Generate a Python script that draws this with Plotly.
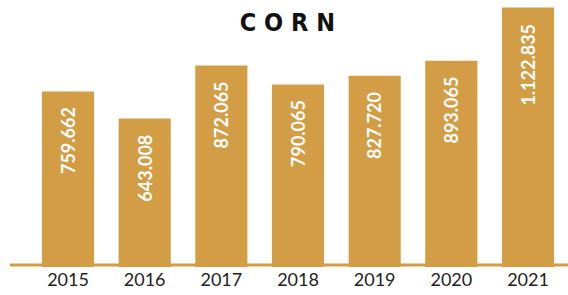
import plotly.graph_objects as go

years = ["2015", "2016", "2017", "2018", "2019", "2020", "2021"]
values = [759662, 643008, 872065, 790065, 827720, 893065, 1122835]
labels = [f"{v:,}".replace(",", ".") for v in values]

BAR = "#D39D45"

fig = go.Figure()
fig.add_trace(go.Bar(
    x=list(range(len(years))), y=values,
    marker=dict(color=BAR, line=dict(width=0)),
    width=0.68,
    hoverinfo="skip",
))

for i, (v, t) in enumerate(zip(values, labels)):
    fig.add_annotation(
        x=i, y=v, text=t, showarrow=False, textangle=-90,
        xanchor="center", yanchor="top", yshift=-14,
        font=dict(family="Lato", size=18, color="white", weight="bold"),
    )

# baseline line
fig.add_shape(type="line", xref="paper", x0=0, x1=1,
              yref="y", ysizemode="pixel", yanchor=0, y0=2, y1=2,
              line=dict(color=BAR, width=3), layer="below")

fig.update_layout(
    width=568, height=295,
    margin=dict(l=10, r=0, t=0, b=28),
    paper_bgcolor="white", plot_bgcolor="white",
    showlegend=False,
    title=dict(text="C O R N", x=0.506, xanchor="center",
               yref="container", y=0.925, yanchor="middle",
               font=dict(family="Liberation Sans Narrow, DejaVu Sans Condensed, Roboto",
                         size=25, color="#111", weight="bold")),
    xaxis=dict(range=[-0.7565, 6.5217], tickmode="array",
               tickvals=list(range(len(years))), ticktext=years,
               showgrid=False, zeroline=False, showline=False, ticks="",
               tickfont=dict(family="Lato", size=18, color="#222")),
    yaxis=dict(range=[0, 1155800], visible=False, fixedrange=True),
)

fig.write_html("out.html", config={"displayModeBar": False},
               post_script="document.body.style.margin='0';document.body.style.overflow='hidden';")
